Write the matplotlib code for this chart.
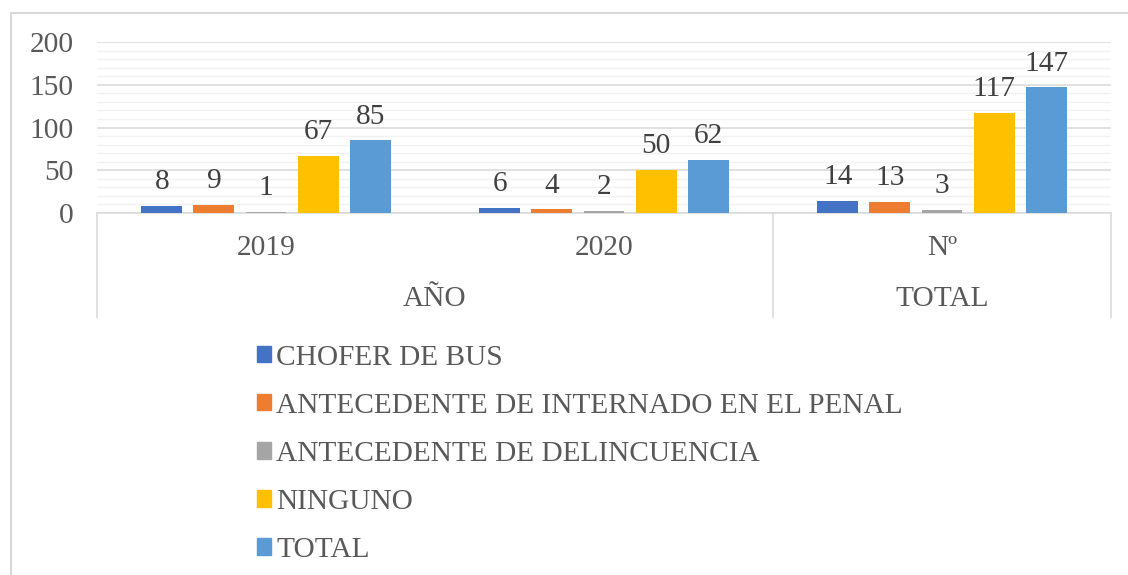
import numpy as np
import matplotlib.pyplot as plt
import matplotlib.transforms as mtransforms
from matplotlib.patches import Rectangle, Patch

plt.rcParams["font.family"] = ["Liberation Serif", "DejaVu Serif"]

categories = ["2019", "2020", "Nº"]
groups = [("AÑO", 0, 1), ("TOTAL", 2, 2)]
series = [
    "CHOFER DE BUS",
    "ANTECEDENTE DE INTERNADO EN EL PENAL",
    "ANTECEDENTE DE DELINCUENCIA",
    "NINGUNO",
    "TOTAL",
]
chofer = [8, 6, 14]
internado = [9, 4, 13]
delincuencia = [1, 2, 3]
ninguno = [67, 50, 117]
total = [85, 62, 147]
colors = ["#4472C4", "#ED7D31", "#A5A5A5", "#FFC000", "#5B9BD5"]

W, H = 1128, 575
text_color = "#595959"
fs = 21.2

fig = plt.figure(figsize=(W / 100, H / 100), dpi=100)
ax = fig.add_axes([97 / W, 1 - 212.7 / H, (1111 - 97) / W, (212.7 - 42.3) / H])

# outer chart border (only top and left visible in crop)
fig.patches.append(Rectangle((11 / W, -0.2), 1.2, 1.2 - 13 / H,
                             transform=fig.transFigure, fill=False,
                             edgecolor="#D9D9D9", lw=1.5))

x = np.arange(len(categories))
step = 0.154
width = 0.121
data = [chofer, internado, delincuencia, ninguno, total]
for j, (vals, col, name) in enumerate(zip(data, colors, series)):
    bars = ax.bar(x + (j - 2) * step, vals, width, color=col, label=name, zorder=3)
    for b, v in zip(bars, vals):
        ax.annotate(str(v), (b.get_x() + b.get_width() / 2, v),
                    xytext=(0, 12), textcoords="offset points",
                    ha="center", va="baseline", fontsize=fs, color="#404040")

ax.set_xlim(-0.5, 2.5)
ax.set_ylim(0, 200)
ax.set_yticks(np.arange(0, 201, 50))
ax.set_yticks(np.arange(0, 201, 10), minor=True)
ax.grid(axis="y", which="major", color="#D9D9D9", lw=1.1, zorder=0)
ax.grid(axis="y", which="minor", color="#F2F2F2", lw=1.0, zorder=0)
ax.tick_params(axis="y", which="both", length=0, pad=17, labelsize=fs, labelcolor=text_color)
ax.set_xticks([])
for s in ["top", "right", "left"]:
    ax.spines[s].set_visible(False)
ax.spines["bottom"].set_color("#D9D9D9")
ax.spines["bottom"].set_linewidth(1.1)

trans = mtransforms.blended_transform_factory(ax.transData, ax.transAxes)
for i, c in enumerate(categories):
    ax.text(i, -0.205, c, transform=trans, ha="center", va="center",
            fontsize=fs, color=text_color)
for name, a, b in groups:
    ax.text((a + b) / 2, -0.506, name, transform=trans, ha="center", va="center",
            fontsize=fs, color=text_color)
for xv in [-0.5, 1.5, 2.5]:
    ax.plot([xv, xv], [0, -0.612], transform=trans, color="#D9D9D9", lw=1.1, clip_on=False)

handles = [Patch(color=c, label=s) for c, s in zip(colors, series)]
fig.legend(handles=handles, loc="upper left", bbox_to_anchor=(242 / W, 1 - 330 / H),
           frameon=False, borderpad=0, handlelength=0.47, handleheight=0.47,
           handletextpad=0.2, labelspacing=0.75, prop={"size": fs},
           labelcolor=text_color)

fig.savefig("out.png", dpi=100)
